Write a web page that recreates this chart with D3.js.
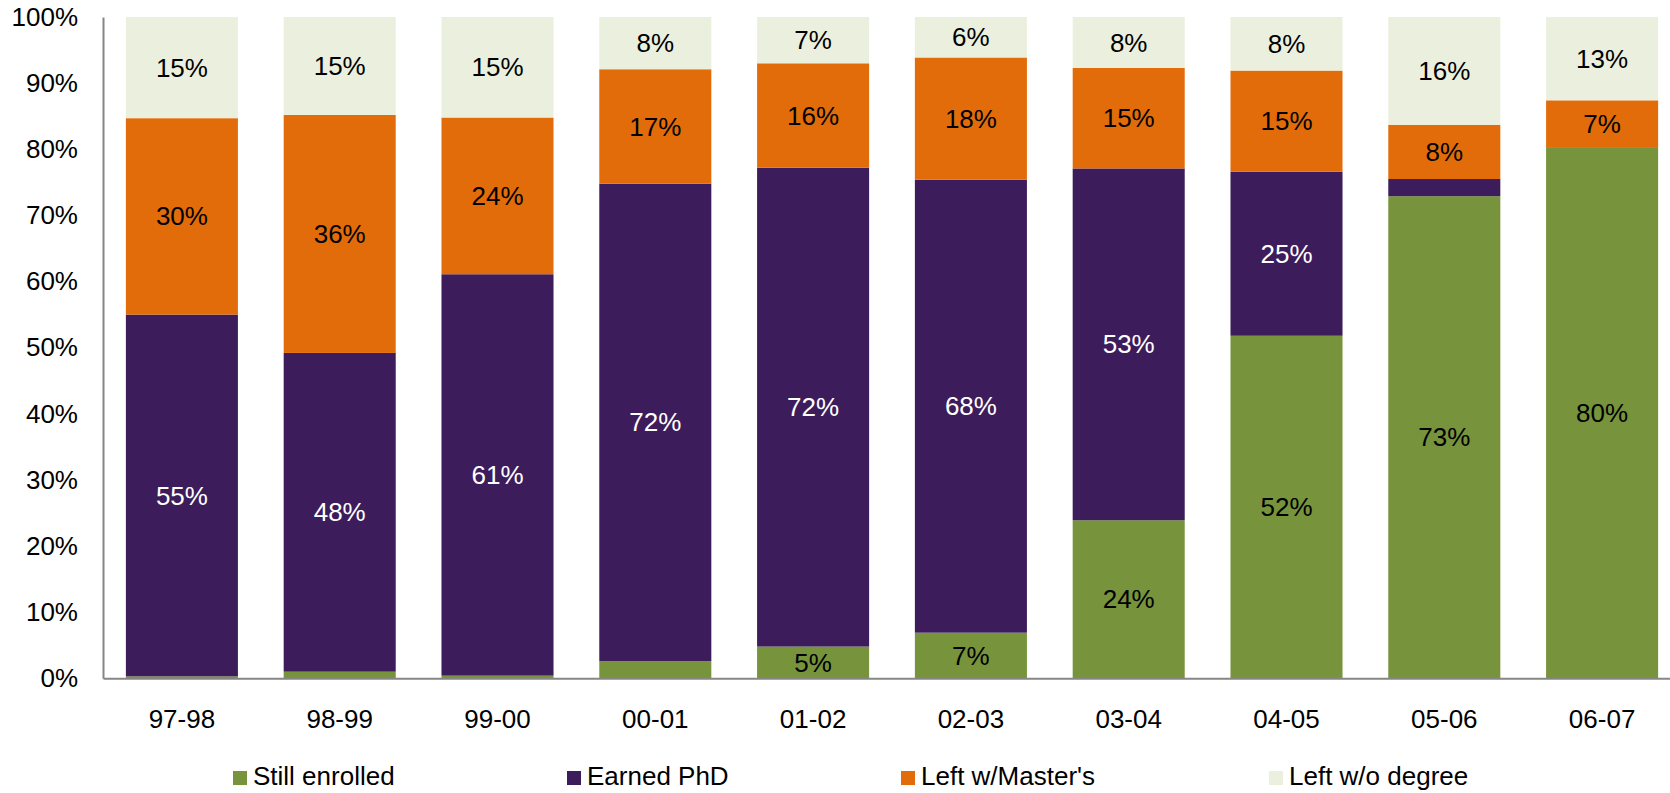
<!DOCTYPE html>
<html>
<head>
<meta charset="utf-8">
<script src="https://cdn.jsdelivr.net/npm/d3@7"></script>
<style>
  body { margin: 0; background: #fff; }
  svg { display: block; font-family: "Liberation Sans", Arial, sans-serif; }
  .axis path { stroke: #868686; stroke-width: 2; }
  .axis text { font-size: 26px; fill: #000; }
</style>
</head>
<body>
<div id="chart"></div>
<script>
// years and the four outcome shares (percent), bottom to top
const years = ["97-98", "98-99", "99-00", "00-01", "01-02", "02-03", "03-04", "04-05", "05-06", "06-07"];
const stillEnrolled = [0.3, 1.0, 0.4, 2.6, 4.8, 6.9, 23.9, 51.8, 72.9, 80.2];
const earnedPhd     = [54.7, 48.2, 60.7, 72.2, 72.4, 68.49, 53.2, 24.8, 2.6, 0];
const leftMasters   = [29.7, 36.0, 23.7, 17.3, 15.8, 18.49, 15.2, 15.3, 8.2, 7.2];
const leftNoDegree  = [15.3, 14.8, 15.2, 7.9, 7.0, 6.12, 7.7, 8.1, 16.3, 12.6];
const seriesNames = ["Still enrolled", "Earned PhD", "Left w/Master's", "Left w/o degree"];
const yTicks = [0, 10, 20, 30, 40, 50, 60, 70, 80, 90, 100];

const width = 1670, height = 793,
  margin = { top: 17, left: 103, bottom: 678.3, right: 1681 };
const colors = ["#77933C", "#3C1C5B", "#E36C0A", "#EBF0DE"];
const labelColors = ["#000", "#fff", "#000", "#000"];

const rows = years.map((y, i) => ({
  year: y,
  "Still enrolled": stillEnrolled[i],
  "Earned PhD": earnedPhd[i],
  "Left w/Master's": leftMasters[i],
  "Left w/o degree": leftNoDegree[i]
}));

const stacked = d3.stack().keys(seriesNames)(rows);

const xScale = d3.scaleBand()
  .domain(years)
  .range([margin.left, margin.right])
  .paddingInner(0.29)
  .paddingOuter(0.145);

const yScale = d3.scaleLinear()
  .domain([0, 100])
  .range([margin.bottom, margin.top]);

const svg = d3.select("#chart")
  .append("svg")
  .attr("width", width)
  .attr("height", height);

const layers = svg.selectAll("g.layer")
  .data(stacked)
  .join("g")
  .attr("class", "layer")
  .attr("fill", (d, i) => colors[i]);

layers.selectAll("rect")
  .data(d => d)
  .join("rect")
  .attr("x", d => xScale(d.data.year))
  .attr("width", xScale.bandwidth())
  .attr("y", d => yScale(d[1]))
  .attr("height", d => yScale(d[0]) - yScale(d[1]));

// value labels (small slices are left unlabelled)
layers.each(function(layer, li) {
  d3.select(this).selectAll("text")
    .data(layer.filter(d => d[1] - d[0] >= 4.5))
    .join("text")
    .attr("x", d => xScale(d.data.year) + xScale.bandwidth() / 2)
    .attr("y", d => yScale((d[0] + d[1]) / 2))
    .attr("dy", "0.35em")
    .attr("text-anchor", "middle")
    .attr("font-size", 26)
    .attr("fill", labelColors[li])
    .text(d => Math.round(d[1] - d[0]) + "%");
});

svg.append("g")
  .attr("class", "axis y-axis")
  .attr("transform", `translate(${margin.left},0)`)
  .call(d3.axisLeft(yScale).tickValues(yTicks).tickSize(0).tickPadding(25).tickFormat(d => d + "%"))
  .call(g => g.selectAll(".tick line").remove());

svg.append("g")
  .attr("class", "axis x-axis")
  .attr("transform", `translate(0,${margin.bottom})`)
  .call(d3.axisBottom(xScale).tickSize(0).tickPadding(31.5))
  .call(g => g.selectAll(".tick line").remove());

// legend
const legendX = [233, 567, 901, 1269];
const legend = svg.selectAll("g.legend")
  .data(seriesNames)
  .join("g")
  .attr("class", "legend")
  .attr("transform", (d, i) => `translate(${legendX[i]},771)`);

legend.append("rect")
  .attr("width", 14)
  .attr("height", 14)
  .attr("fill", (d, i) => colors[i]);

legend.append("text")
  .attr("x", 20)
  .attr("y", 14)
  .attr("font-size", 26)
  .attr("fill", "#000")
  .text(d => d);
</script>
</body>
</html>
